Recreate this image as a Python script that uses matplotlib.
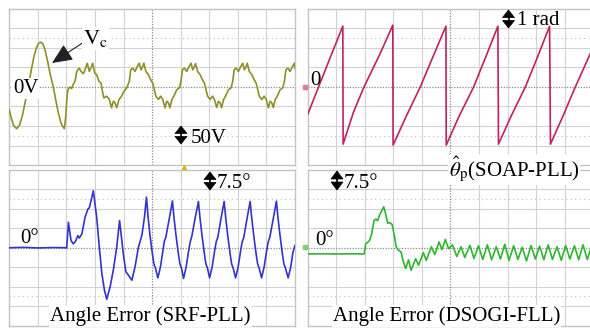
import matplotlib
matplotlib.use('Agg')
import matplotlib.pyplot as plt
from matplotlib.patches import Polygon
from matplotlib.lines import Line2D

plt.rcParams['font.family'] = ['Liberation Serif', 'DejaVu Serif']
plt.rcParams['mathtext.fontset'] = 'stix'

# ---------------- data (in oscilloscope divisions: x 0..10, y -4..4) ----------------
vc_x = [0.00, 0.08, 0.16, 0.26, 0.36, 0.46, 0.56, 0.665, 0.76, 0.86, 0.96, 1.03, 1.10, 1.18, 1.26,
        1.35, 1.44, 1.54, 1.63, 1.72, 1.82, 1.925, 1.97, 2.02, 2.05, 2.12, 2.18, 2.24, 2.30,
        2.36, 2.45, 2.51, 2.59, 2.65, 2.73, 2.80, 2.86, 2.92, 2.99, 3.06, 3.14, 3.21, 3.27, 3.31,
        3.41, 3.50, 3.58, 3.64, 3.70, 3.76, 3.84, 3.93, 4.01, 4.11, 4.20,
        4.25, 4.32, 4.40, 4.48, 4.55, 4.61, 4.67, 4.71, 4.78, 4.87, 4.95, 5.02, 5.06, 5.13, 5.22,
        5.30, 5.37, 5.45, 5.51, 5.57, 5.62, 5.69, 5.76, 5.86, 5.95, 6.01,
        6.06, 6.13, 6.21, 6.29, 6.36, 6.42, 6.48, 6.52, 6.59, 6.68, 6.76, 6.83, 6.87, 6.94, 7.03,
        7.11, 7.18, 7.26, 7.32, 7.38, 7.43, 7.50, 7.57, 7.67, 7.76, 7.82,
        7.87, 7.94, 8.02, 8.10, 8.17, 8.23, 8.29, 8.33, 8.40, 8.49, 8.57, 8.64, 8.68, 8.75, 8.84,
        8.92, 8.99, 9.07, 9.13, 9.19, 9.24, 9.31, 9.38, 9.48, 9.57, 9.63,
        9.68, 9.75, 9.83, 9.91, 9.98, 10.0]
vc_y = [-1.20, -1.65, -2.00, -2.14, -1.95, -1.45, -0.75, 0.00, 0.80, 1.55, 2.05, 2.25, 2.30, 2.20, 1.85,
        1.25, 0.60, 0.00, -0.70, -1.35, -1.90, -2.14, -1.60, -0.50, -0.14, 0.00, -0.08, 0.15, 0.29,
        0.80, 0.97, 0.80, 0.68, 0.88, 1.22, 0.80, 1.00, 1.22, 0.71, 0.63, 0.29, 0.20, -0.30, -0.56,
        -0.47, -0.64, -1.07, -0.73, -0.81, -1.07, -0.64, -0.47, -0.22, -0.05, 0.29,
        0.88, 0.97, 0.80, 1.05, 1.22, 0.88, 1.05, 1.22, 0.80, 0.63, 0.37, 0.20, -0.05, -0.47, -0.64,
        -0.47, -0.64, -1.07, -0.73, -0.81, -1.07, -0.64, -0.47, -0.14, -0.05, 0.29,
        0.88, 0.97, 0.80, 1.05, 1.22, 0.88, 1.05, 1.20, 0.80, 0.63, 0.37, 0.20, -0.05, -0.47, -0.64,
        -0.47, -0.64, -1.05, -0.73, -0.81, -1.07, -0.64, -0.47, -0.14, -0.05, 0.29,
        0.88, 0.97, 0.80, 1.05, 1.22, 0.88, 1.05, 1.22, 0.80, 0.63, 0.37, 0.20, -0.05, -0.47, -0.64,
        -0.47, -0.64, -1.07, -0.73, -0.81, -1.05, -0.64, -0.47, -0.14, -0.05, 0.29,
        0.88, 0.97, 0.80, 1.05, 1.22, 0.95]

theta_x = [0.00, 0.38, 0.80, 1.23, 1.24, 1.60, 1.97, 2.50, 2.98, 2.99, 3.45, 3.94, 4.40, 4.84,
           4.85, 5.30, 5.81, 6.25, 6.66, 6.68, 7.12, 7.62, 8.05, 8.47, 8.50, 8.95, 9.37, 9.90]
theta_y = [-1.41, 0.00, 1.55, 3.12, -2.93, -1.30, 0.00, 1.60, 3.17, -2.98, -1.50, 0.00, 1.60, 3.12,
           -2.98, -1.50, 0.00, 1.60, 3.12, -2.93, -1.50, 0.00, 1.55, 3.12, -2.93, -1.45, 0.00, 1.73]

srf_x = [0.00, 0.50, 1.00, 1.50, 2.01, 2.07, 2.16, 2.24, 2.32, 2.40, 2.45, 2.54, 2.65, 2.75, 2.80,
         2.86, 2.94, 3.06, 3.15, 3.24, 3.33, 3.41, 3.53, 3.64, 3.76, 3.86, 3.99, 4.08, 4.17, 4.29,
         4.40, 4.52, 4.64, 4.73, 4.80,
         4.85, 4.92, 5.00, 5.06, 5.12, 5.20, 5.29, 5.37, 5.42, 5.48, 5.60, 5.71,
         5.76, 5.83, 5.91, 5.97, 6.03, 6.10, 6.19, 6.27, 6.33, 6.39, 6.51, 6.62,
         6.67, 6.74, 6.82, 6.88, 6.94, 7.01, 7.10, 7.18, 7.24, 7.30, 7.41, 7.52,
         7.57, 7.64, 7.72, 7.78, 7.84, 7.92, 8.01, 8.09, 8.15, 8.21, 8.32, 8.43,
         8.48, 8.55, 8.63, 8.69, 8.75, 8.83, 8.92, 9.00, 9.06, 9.12, 9.24, 9.35,
         9.40, 9.47, 9.55, 9.61, 9.67, 9.76, 9.85, 9.93, 10.0]
srf_y = [0.00, 0.02, -0.01, 0.01, 0.00, 1.31, 0.37, 0.20, 0.34, 0.62, 0.50, 0.71, 1.56, 1.99, 2.05,
         2.41, 2.93, 1.56, 0.03, -1.33, -2.18, -2.65, -2.00, -1.16, 0.03, 1.40, -0.31, -1.24, -1.41, -1.67,
         -0.99, 0.03, 0.63, 1.56, 2.60,
         1.70, 0.70, -0.22, -0.82, -1.07, -1.55, -0.99, -0.22, 0.29, 0.55, 1.50, 2.41,
         1.60, 0.70, -0.22, -0.82, -1.07, -1.58, -0.99, -0.22, 0.29, 0.60, 1.56, 2.38,
         1.60, 0.70, -0.22, -0.82, -1.07, -1.55, -0.99, -0.22, 0.29, 0.55, 1.50, 2.38,
         1.60, 0.70, -0.22, -0.82, -1.07, -1.55, -0.99, -0.22, 0.29, 0.55, 1.50, 2.38,
         1.60, 0.70, -0.22, -0.82, -1.07, -1.55, -0.99, -0.22, 0.29, 0.55, 1.50, 2.40,
         1.60, 0.70, -0.22, -0.82, -1.07, -1.55, -0.99, -0.22, 0.12]

dsogi_x = [0.00, 0.50, 1.00, 1.50, 1.98, 2.03, 2.10, 2.16, 2.24, 2.32, 2.39, 2.45, 2.52, 2.59, 2.66,
           2.73, 2.80, 2.88, 2.96, 3.03, 3.10, 3.19, 3.27, 3.35, 3.43,
           3.53, 3.62, 3.78, 3.88, 4.05, 4.15, 4.33, 4.45, 4.60, 4.70, 4.82, 4.93,
           5.07, 5.22, 5.37, 5.50, 5.68, 5.82, 5.98, 6.13, 6.29, 6.44, 6.60, 6.75, 6.90, 7.05,
           7.21, 7.36, 7.51, 7.66, 7.82, 7.97, 8.12, 8.27, 8.42, 8.57, 8.73, 8.88, 9.03, 9.18,
           9.34, 9.49, 9.64, 9.79, 9.94, 10.0]
dsogi_y = [-0.32, -0.31, -0.32, -0.31, -0.32, 0.20, 0.28, 0.37, 0.71, 1.39, 1.48, 1.39, 1.70, 1.90, 2.11,
           1.73, 1.26, 1.30, 1.18, 0.65, 0.03, -0.14, -0.22, -0.73, -1.07,
           -0.62, -1.16, -0.56, -0.90, -0.25, -0.65, 0.05, -0.35, 0.30, -0.10, 0.43, -0.05,
           0.15, -0.45, 0.05, -0.50, 0.12, -0.55, 0.10, -0.60, 0.15, -0.62, 0.05, -0.58, 0.18, -0.65,
           0.10, -0.60, 0.02, -0.68, 0.12, -0.58, 0.08, -0.62, 0.15, -0.60, 0.05, -0.65, 0.12, -0.58,
           0.10, -0.62, 0.15, -0.60, 0.08, -0.45]

# ---------------- figure ----------------
W, H = 590, 331
fig = plt.figure(figsize=(5.9, 3.31), dpi=100)
fig.patch.set_facecolor('white')


def fx(x):
    return x / W


def fy(y):
    return 1 - y / H


def make_axes(left, top, right, bottom):
    ax = fig.add_axes([fx(left), fy(bottom), (right - left) / W, (bottom - top) / H])
    ax.set_xlim(0, 10)
    ax.set_ylim(-4, 4)
    ax.set_xticks([])
    ax.set_yticks([])
    for s in ax.spines.values():
        s.set_color('#c4c4c4')
        s.set_linewidth(1.0)
    for i in range(1, 10):
        if i != 5:
            ax.axvline(i, color='#d2d2d2', lw=0.8, zorder=0)
    for j in (-3, -2, -1, 1, 2, 3):
        ax.axhline(j, color='#d2d2d2', lw=0.8, zorder=0)
    for j in (-2.5, 2.5):
        ax.axhline(j, color='#bdbdbd', lw=0.8, ls=(0, (1, 3)), zorder=0)
    ax.axvline(5, color='#8a8a8a', lw=0.9, ls=(0, (1, 1.2)), zorder=0)
    ax.axhline(0, color='#8a8a8a', lw=0.9, ls=(0, (1, 1.2)), zorder=0)
    return ax


ax_tl = make_axes(9.3, 9, 295, 165)
ax_tr = make_axes(307.7, 9, 593.3, 165)
ax_bl = make_axes(9.3, 170, 295, 325.5)
ax_br = make_axes(307.7, 170, 593.3, 325.5)

ax_tl.plot(vc_x, vc_y, color='#8f8f2a', lw=1.2, zorder=3)
ax_tr.plot(theta_x, theta_y, color='#c2215f', lw=1.2, zorder=3)
ax_bl.plot(srf_x, srf_y, color='#3434c8', lw=1.2, zorder=3)
ax_br.plot(dsogi_x, dsogi_y, color='#2fb52f', lw=1.2, zorder=3)

FS = 15


def label(x, baseline, s, ha='left', bg=True, fs=FS):
    kw = dict(fontsize=fs, ha=ha, va='baseline', color='black', zorder=10)
    if bg:
        kw['bbox'] = dict(facecolor='white', edgecolor='none', pad=0.6)
    fig.text(fx(x), fy(baseline), s, **kw)


def updown(cx, top, bottom, half_w=6):
    tri_h = (bottom - top) * 0.42
    up = [(cx - half_w, top + tri_h), (cx + half_w, top + tri_h), (cx, top)]
    dn = [(cx - half_w, bottom - tri_h), (cx + half_w, bottom - tri_h), (cx, bottom)]
    for pts in (up, dn):
        fig.add_artist(Polygon([(fx(a), fy(b)) for a, b in pts], closed=True,
                               transform=fig.transFigure, facecolor='black',
                               edgecolor='black', lw=0.5, zorder=10))
    fig.add_artist(Line2D([fx(cx), fx(cx)], [fy(top + tri_h), fy(bottom - tri_h)],
                          transform=fig.transFigure, color='black', lw=1.2, zorder=10))


def arrow(tail, tip):
    ax_tl.annotate('', xy=(fx(tip[0]), fy(tip[1])), xytext=(fx(tail[0]), fy(tail[1])),
                   xycoords='figure fraction', textcoords='figure fraction',
                   annotation_clip=False, zorder=11,
                   arrowprops=dict(arrowstyle='-|>,head_length=0.9,head_width=0.4',
                                   color='#222222', lw=0.8, mutation_scale=14,
                                   shrinkA=0, shrinkB=0))


# top-left annotations
label(13, 93, '0V')
label(83, 44, r'$\mathrm{V}_{\mathrm{c}}$', fs=16)
arrow((84, 42), (52, 63))
updown(181, 126, 144)
label(191, 143, '50V', bg=False)

# top-right annotations
label(310, 85, '0', bg=False)
updown(508.5, 10, 28)
label(517, 25, '1 rad', bg=False)
arrow((445, 156), (407, 125))
label(514, 176, r'$\hat{\theta}_{\mathrm{p}}$(SOAP-PLL)', ha='center')

# bottom-left annotations
label(20, 243, '0°', bg=False)
updown(210, 172, 190)
label(217, 188, '7.5°', bg=False)
arrow((72, 304), (55, 253))
label(150.5, 321, 'Angle Error (SRF-PLL)', ha='center')

# bottom-right annotations
label(315, 245, '0°', bg=False)
updown(337, 171, 190)
label(344, 188, '7.5°', bg=False)
arrow((354, 306), (357, 258))
label(446.5, 321, 'Angle Error (DSOGI-FLL)', ha='center')

# small channel / trigger markers
fig.add_artist(Line2D([fx(184)], [fy(166.5)], marker='^', ms=3, color='#d4b820',
                      transform=fig.transFigure, zorder=9))
fig.add_artist(Line2D([fx(304.5)], [fy(87.3)], marker='s', ms=2.5, color='#e07aa0',
                      transform=fig.transFigure, zorder=9))
fig.add_artist(Line2D([fx(304.5)], [fy(246.5)], marker='s', ms=2.5, color='#7ad07a',
                      transform=fig.transFigure, zorder=9))

fig.savefig('out.png', dpi=100, facecolor='white')
